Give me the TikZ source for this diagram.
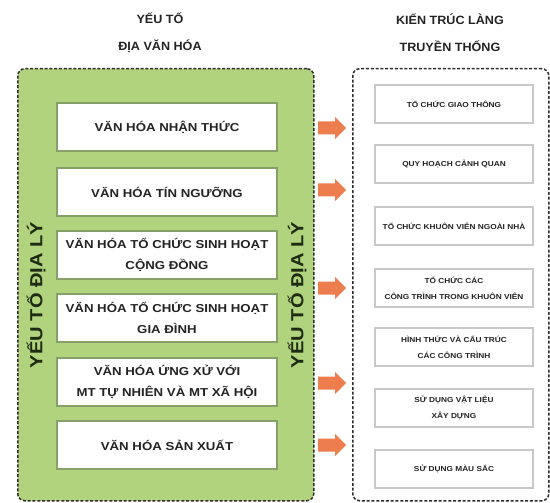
\documentclass[tikz,border=0pt]{standalone}
\usepackage{fontspec}
\setmainfont{Liberation Sans}
\newfontfamily\widesans{Liberation Sans}[FakeStretch=1.15]
\newfontfamily\headsans{Liberation Sans}[FakeStretch=1.05]

\definecolor{leafgreen}{RGB}{178,211,125}
\definecolor{boxedge}{RGB}{135,160,105}
\definecolor{darkleaf}{RGB}{30,42,18}
\definecolor{dashgray}{RGB}{45,45,45}
\definecolor{paleedge}{RGB}{200,200,200}
\definecolor{arroworange}{RGB}{238,125,78}
\definecolor{inktext}{RGB}{35,35,35}

\tikzset{
  heading/.style={font=\headsans\bfseries\fontsize{12}{27}\selectfont, text=inktext, align=center},
  framegreen/.style={draw=dashgray, line width=1.5pt, dash pattern=on 3pt off 1.8pt, fill=leafgreen, rounded corners=7pt},
  framewhite/.style={draw=dashgray, line width=1.5pt, dash pattern=on 3pt off 1.8pt, fill=white, rounded corners=7pt},
  culturebox/.style={draw=boxedge, line width=1.4pt, fill=white, minimum width=220pt, minimum height=48pt,
    inner sep=0pt, align=center, text=inktext, font=\widesans\bfseries\fontsize{11.5}{21}\selectfont},
  archbox/.style={draw=paleedge, line width=1.1pt, fill=white, minimum width=158pt, minimum height=38pt,
    inner sep=0pt, align=center, text=inktext, font=\widesans\bfseries\fontsize{7.2}{16}\selectfont},
  sidelabel/.style={rotate=90, text=darkleaf, font=\widesans\bfseries\fontsize{17.5}{20}\selectfont},
  fatarrow/.style={fill=arroworange, draw=none}
}

\begin{document}
\begin{tikzpicture}[x=1pt, y=-1pt]
  \useasboundingbox (0,0) rectangle (550,503);

  % column headings
  \node[heading] (headL) at (160,33) {YẾU TỐ\\ĐỊA VĂN HÓA};
  \node[heading] (headR) at (450,33) {KIẾN TRÚC LÀNG\\TRUYỀN THỐNG};

  % the two dashed frames
  \node[framegreen, minimum width=296pt, minimum height=432pt, anchor=north west] (frameL) at (17,68) {};
  \node[framewhite, minimum width=196pt, minimum height=432pt, anchor=north west] (frameR) at (352,68) {};

  % vertical labels on both sides of the green frame
  \node[sidelabel] (geoL) at (36,295) {YẾU TỐ ĐỊA LÝ};
  \node[sidelabel] (geoR) at (297,295) {YẾU TỐ ĐỊA LÝ};

  % cultural factors
  \node[culturebox] (c1) at (167,127) {VĂN HÓA NHẬN THỨC};
  \node[culturebox] (c2) at (167,192) {VĂN HÓA TÍN NGƯỠNG};
  \node[culturebox] (c3) at (167,255) {VĂN HÓA TỔ CHỨC SINH HOẠT\\CỘNG ĐỒNG};
  \node[culturebox] (c4) at (167,318) {VĂN HÓA TỔ CHỨC SINH HOẠT\\GIA ĐÌNH};
  \node[culturebox] (c5) at (167,382) {VĂN HÓA ỨNG XỬ VỚI\\MT TỰ NHIÊN VÀ MT XÃ HỘI};
  \node[culturebox] (c6) at (167,445) {VĂN HÓA SẢN XUẤT};

  % architectural aspects
  \node[archbox] (a1) at (454,104) {TỔ CHỨC GIAO THÔNG};
  \node[archbox] (a2) at (454,164) {QUY HOẠCH CẢNH QUAN};
  \node[archbox] (a3) at (454,226) {TỔ CHỨC KHUÔN VIÊN NGOÀI NHÀ};
  \node[archbox] (a4) at (454,288) {TỔ CHỨC CÁC\\CÔNG TRÌNH TRONG KHUÔN VIÊN};
  \node[archbox] (a5) at (454,347) {HÌNH THỨC VÀ CẤU TRÚC\\CÁC CÔNG TRÌNH};
  \node[archbox] (a6) at (454,408) {SỬ DỤNG VẬT LIỆU\\XÂY DỰNG};
  \node[archbox] (a7) at (454,469) {SỬ DỤNG MÀU SẮC};

  % block arrows between the frames
  \foreach \i/\yy in {1/128,2/190,3/288,4/383,5/445} {
    \coordinate (tail\i) at (318,\yy);
    \fill[fatarrow] (tail\i) ++(0,-6.5) -- ++(17,0) -- ++(0,-4.5) -- ++(11,11)
      -- ++(-11,11) -- ++(0,-4.5) -- ++(-17,0) -- cycle;
  }
\end{tikzpicture}
\end{document}
